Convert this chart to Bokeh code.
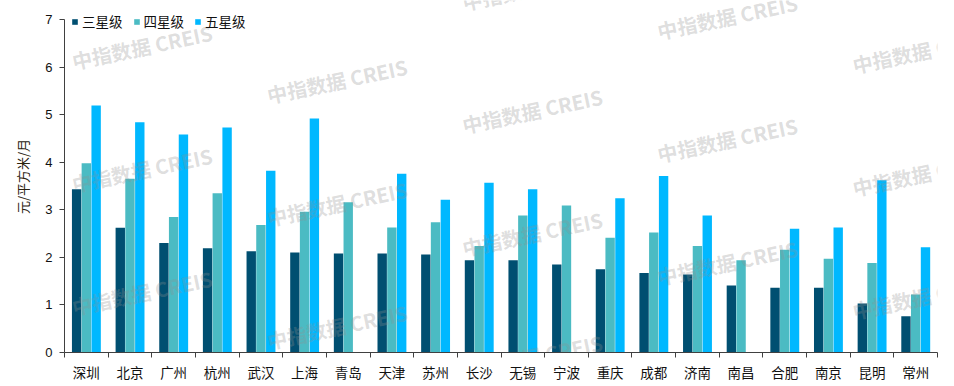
import numpy as np
from bokeh.plotting import figure
from bokeh.models import Range1d, FixedTicker, Legend, LegendItem, ColumnDataSource
from bokeh.core.properties import value
from bokeh.transform import dodge
from bokeh.embed import file_html
from bokeh.resources import INLINE

cities = ["深圳", "北京", "广州", "杭州", "武汉", "上海", "青岛", "天津", "苏州", "长沙",
          "无锡", "宁波", "重庆", "成都", "济南", "南昌", "合肥", "南京", "昆明", "常州"]
three_star = [3.43, 2.62, 2.30, 2.19, 2.13, 2.10, 2.08, 2.08, 2.06, 1.94,
              1.94, 1.85, 1.75, 1.67, 1.64, 1.41, 1.36, 1.36, 1.03, 0.76]
four_star = [3.98, 3.65, 2.85, 3.35, 2.68, 2.96, 3.16, 2.63, 2.74, 2.24,
             2.88, 3.09, 2.41, 2.52, 2.24, 1.94, 2.16, 1.97, 1.88, 1.22]
five_star = [5.19, 4.84, 4.58, 4.73, 3.82, 4.92, np.nan, 3.76, 3.21, 3.57,
             3.43, np.nan, 3.24, 3.71, 2.88, np.nan, 2.60, 2.63, 3.62, 2.21]
series_names = ["三星级", "四星级", "五星级"]
series_colors = ["#004F71", "#4BBBC3", "#00B8FF"]
y_ticks = [0, 1, 2, 3, 4, 5, 6, 7]
y_axis_max = 7
y_title = "元/平方米/月"
watermark = "中指数据 CREIS"

CJK = "Noto Sans CJK SC"
n = len(cities)
xs = list(range(n))
px_per_x = 43.62
px_per_y = 47.6
top_pad = 19  # frame reaches the top of the canvas; the y axis line itself stops at 7

p = figure(width=946, height=386, x_range=Range1d(-0.5, n - 0.5),
           y_range=Range1d(0, y_axis_max + top_pad / px_per_y),
           output_backend="svg", toolbar_location=None,
           min_border_left=64, min_border_right=9, min_border_top=19 - top_pad, min_border_bottom=34)
p.xgrid.visible = False
p.ygrid.visible = False
p.outline_line_color = None
p.background_fill_color = "white"
p.border_fill_color = "white"

src = ColumnDataSource(dict(x=xs, s0=three_star, s1=four_star, s2=five_star))
offsets = [-0.222, 0.0, 0.225]
renderers = []
for i, key in enumerate(["s0", "s1", "s2"]):
    r = p.vbar(x=dodge("x", offsets[i], range=p.x_range), top=key, width=0.215, bottom=0,
               source=src, fill_color=series_colors[i], line_color=None)
    renderers.append(r)

# watermark lattice (page pixel anchor of each repeated stamp), drawn over the bars, clipped to the plot
wm_cols = [72, 267, 462, 657, 852]
wm_first = [61, 95, 2, 31, 65]
wm_step = 123
wx, wy = [], []
for cx, fy in zip(wm_cols, wm_first):
    for k in range(4):
        py = fy + k * wm_step
        if py > 380:
            continue
        wx.append((cx - 64.3) / px_per_x - 0.5)
        wy.append((352.3 - py) / px_per_y)
wm_src = ColumnDataSource(dict(x=wx, y=wy, t=[watermark] * len(wx)))
p.text(x="x", y="y", text="t", source=wm_src, angle=0.206,
       text_font=value(CJK), text_font_style="bold", text_font_size="20px",
       text_color="#909090", text_alpha=0.3, text_baseline="alphabetic", text_align="left")

# x axis
xa = p.xaxis[0]
xa.ticker = FixedTicker(ticks=xs, minor_ticks=[i - 0.5 for i in range(n + 1)])
xa.major_label_overrides = {i: c for i, c in enumerate(cities)}
xa.major_tick_line_color = None
xa.major_tick_out = 0
xa.major_tick_in = 0
xa.minor_tick_line_color = "#404040"
xa.minor_tick_out = 5
xa.minor_tick_in = 0
xa.axis_line_color = "#404040"
xa.major_label_text_font = CJK
xa.major_label_text_font_size = "13.5px"
xa.major_label_text_color = "#111111"
xa.major_label_standoff = 4

# y axis
ya = p.yaxis[0]
ya.ticker = FixedTicker(ticks=y_ticks)
ya.bounds = (0, y_axis_max)
ya.axis_line_color = "#404040"
ya.major_tick_line_color = "#404040"
ya.major_tick_out = 5
ya.major_tick_in = 0
ya.minor_tick_line_color = None
ya.major_label_text_font = "Liberation Sans"
ya.major_label_text_font_size = "13px"
ya.major_label_text_color = "#111111"
ya.major_label_standoff = 7
ya.axis_label = y_title
ya.axis_label_text_font = CJK
ya.axis_label_text_font_size = "13px"
ya.axis_label_text_font_style = "normal"
ya.axis_label_text_color = "#2a2210"
ya.axis_label_standoff = 10

legend = Legend(items=[LegendItem(label=series_names[i], renderers=[renderers[i]]) for i in range(3)],
                orientation="horizontal", location=(7, 321),
                glyph_width=7, glyph_height=7, label_standoff=4, spacing=10,
                padding=0, margin=0, border_line_color=None, background_fill_alpha=0,
                label_text_font=CJK, label_text_font_size="13.5px", label_height=16,
                label_text_color="#111111")
p.add_layout(legend, "center")

open("out.html", "w").write(file_html(p, INLINE))
